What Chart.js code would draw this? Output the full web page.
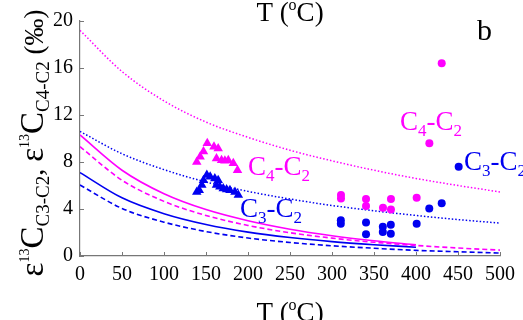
<!DOCTYPE html>
<html>
<head>
<meta charset="utf-8">
<script src="https://cdn.jsdelivr.net/npm/chart.js@4.4.0/dist/chart.umd.min.js"></script>
<style>
  html, body { margin: 0; padding: 0; background: #fff; }
  #wrap { width: 523px; height: 320px; }
</style>
</head>
<body>
<div id="wrap"><canvas id="c" width="523" height="320"></canvas></div>
<script>
// temperature grid of the model curves (°C)
const tGrid = [0, 50, 100, 150, 200, 250, 300, 350, 400, 450, 500];
const tShort = [0, 50, 100, 150, 200, 250, 300, 350, 400];

// model curves (‰)
const magentaDotted = [19.2, 15.7, 13.2, 11.4, 10.1, 9.0, 8.1, 7.3, 6.6, 6.0, 5.45];
const blueDotted = [10.6, 8.7, 7.35, 6.3, 5.5, 4.85, 4.3, 3.85, 3.45, 3.1, 2.8];
const magentaSolid = [10.3, 7.3, 5.3, 3.95, 3.0, 2.28, 1.73, 1.3, 0.95];
const magentaDashed = [9.3, 6.45, 4.65, 3.45, 2.6, 1.98, 1.52, 1.17, 0.9, 0.68, 0.5];
const blueSolid = [7.1, 4.95, 3.6, 2.68, 2.03, 1.57, 1.22, 0.96, 0.75];
const blueDashed = [6.04, 4.05, 2.88, 2.08, 1.53, 1.15, 0.87, 0.66, 0.48, 0.36, 0.25];

// measured values, triangles
const triC4T = [139, 143, 147, 151.5, 159.5, 164.5, 162.5, 168.5, 172.5, 176.5, 182.5, 187.5];
const triC4V = [8.0, 8.45, 8.9, 9.6, 9.3, 9.15, 8.3, 8.15, 8.1, 8.15, 7.9, 7.3];
const triC3T = [139, 142, 145, 147, 151, 155, 160.5, 164.5, 162.5, 166.5, 170.5, 174.5, 178.5, 184.5, 188.5];
const triC3V = [5.45, 5.6, 6.05, 6.45, 6.9, 6.75, 6.6, 6.45, 6.05, 5.9, 5.75, 5.65, 5.6, 5.45, 5.2];

// measured values, circles
const dotC4T = [310.7, 310.7, 340.5, 340.5, 360.7, 370.2, 370.2, 400.8, 415.9, 430.6];
const dotC4V = [5.2, 4.9, 4.85, 4.25, 4.1, 4.85, 3.95, 4.95, 9.6, 16.4];
const dotC3T = [310.5, 310.5, 340.5, 340.5, 360.5, 360.5, 370, 370, 400.8, 415.8, 430.6, 450.8];
const dotC3V = [3.05, 2.75, 2.85, 1.85, 2.5, 2.05, 2.65, 1.9, 2.75, 4.05, 4.5, 7.6];

const xTicks = [0, 50, 100, 150, 200, 250, 300, 350, 400, 450, 500];
const yTicks = [0, 4, 8, 12, 16, 20];

const MAG = '#ff00ff';
const BLU = '#0000f0';
const SERIF = '"Liberation Serif", "DejaVu Serif", serif';

Chart.defaults.font.family = SERIF;

function pts(xs, ys) {
  return xs.map((x, i) => ({ x: x, y: ys[i] }));
}

function marks(label, xs, ys, color, style, r) {
  return {
    label: label, data: pts(xs, ys), showLine: false,
    pointStyle: style, pointRadius: r, pointHoverRadius: r,
    backgroundColor: color, borderColor: color, borderWidth: 0
  };
}

function curve(label, xs, ys, color, dash, w) {
  return {
    label: label, data: pts(xs, ys), showLine: true,
    borderColor: color, borderWidth: w, borderDash: dash,
    pointRadius: 0, cubicInterpolationMode: 'monotone', fill: false
  };
}

// draws text runs of different size / vertical offset one after another
function drawRich(ctx, parts, x, y, color, center) {
  let total = 0;
  parts.forEach(p => {
    ctx.font = p[1] + 'px ' + SERIF;
    total += ctx.measureText(p[0]).width;
  });
  let cx = center ? x - total / 2 : x;
  ctx.fillStyle = color;
  ctx.textBaseline = 'alphabetic';
  ctx.textAlign = 'left';
  parts.forEach(p => {
    ctx.font = p[1] + 'px ' + SERIF;
    ctx.fillText(p[0], cx, y + p[2]);
    cx += ctx.measureText(p[0]).width;
  });
}

const decor = {
  id: 'decor',
  afterDraw(chart) {
    const ctx = chart.ctx;
    const xs = chart.scales.x, ys = chart.scales.y;
    const area = chart.chartArea;
    ctx.save();

    // inward tick marks
    ctx.strokeStyle = '#777';
    ctx.lineWidth = 1;
    ctx.beginPath();
    xTicks.forEach(v => {
      const px = Math.round(xs.getPixelForValue(v)) + 0.5;
      ctx.moveTo(px, area.bottom); ctx.lineTo(px, area.bottom - 4);
    });
    yTicks.forEach(v => {
      const py = Math.round(ys.getPixelForValue(v)) + 0.5;
      ctx.moveTo(area.left, py); ctx.lineTo(area.left + 4, py);
    });
    ctx.stroke();

    // curve / group labels
    drawRich(ctx, [['C', 27, 0], ['4', 17, 6], ['-C', 27, 0], ['2', 17, 6]], 248, 175, MAG);
    drawRich(ctx, [['C', 27, 0], ['3', 17, 6], ['-C', 27, 0], ['2', 17, 6]], 240, 217, BLU);
    drawRich(ctx, [['C', 27, 0], ['4', 17, 6], ['-C', 27, 0], ['2', 17, 6]], 400, 130, MAG);
    drawRich(ctx, [['C', 27, 0], ['3', 17, 6], ['-C', 27, 0], ['2', 17, 6]], 464, 170, BLU);

    // panel letter
    drawRich(ctx, [['b', 30, 0]], 477, 40, '#000');

    // x titles (bottom and the clipped one at the top)
    const tParts = [['T (', 27, 0], ['o', 16, -11], ['C)', 27, 0]];
    drawRich(ctx, tParts, 290, 321, '#000', true);
    drawRich(ctx, tParts, 290, 21, '#000', true);

    // y title, rotated
    ctx.translate(43, 143);
    ctx.rotate(-Math.PI / 2);
    drawRich(ctx, [
      ['\u03b5', 33, 0], ['13', 14, -14], ['C', 33, 0], ['C3-C2', 19, 6],
      [', ', 28, 0],
      ['\u03b5', 33, 0], ['13', 14, -14], ['C', 33, 0], ['C4-C2', 19, 6],
      [' (\u2030)', 27, 0]
    ], 0, 0, '#000', true);

    ctx.restore();
  }
};

new Chart(document.getElementById('c'), {
  type: 'scatter',
  data: {
    datasets: [
      marks('C4-C2 dots', dotC4T, dotC4V, MAG, 'circle', 4),
      marks('C3-C2 dots', dotC3T, dotC3V, BLU, 'circle', 4),
      marks('C4-C2 triangles', triC4T, triC4V, MAG, 'triangle', 5.5),
      marks('C3-C2 triangles', triC3T, triC3V, BLU, 'triangle', 5.5),
      curve('C4 dotted', tGrid, magentaDotted, MAG, [1.5, 2], 1.5),
      curve('C3 dotted', tGrid, blueDotted, BLU, [1.5, 2], 1.5),
      curve('C4 solid', tShort, magentaSolid, MAG, [], 1.6),
      curve('C4 dashed', tGrid, magentaDashed, MAG, [5, 3], 1.6),
      curve('C3 solid', tShort, blueSolid, BLU, [], 1.6),
      curve('C3 dashed', tGrid, blueDashed, BLU, [5, 3], 1.6)
    ]
  },
  options: {
    responsive: false,
    animation: false,
    devicePixelRatio: 1,
    layout: { padding: { top: 21, right: 23, left: 0, bottom: 0 } },
    plugins: { legend: { display: false }, tooltip: { enabled: false } },
    scales: {
      x: {
        type: 'linear', min: 0, max: 500,
        afterFit(scale) { scale.height = 64; },
        afterBuildTicks(scale) { scale.ticks = xTicks.map(v => ({ value: v })); },
        grid: { display: true, drawOnChartArea: false, drawTicks: false },
        border: { display: true, color: '#777', width: 1.2 },
        ticks: { color: '#000', padding: 7, maxRotation: 0, autoSkip: false,
                 font: { family: SERIF, size: 20 } }
      },
      y: {
        type: 'linear', min: 0, max: 20,
        afterFit(scale) { scale.width = 80; },
        afterBuildTicks(scale) { scale.ticks = yTicks.map(v => ({ value: v })); },
        grid: { display: true, drawOnChartArea: false, drawTicks: false },
        border: { display: true, color: '#777', width: 1.2 },
        ticks: { color: '#000', padding: 7, font: { family: SERIF, size: 20 } }
      }
    }
  },
  plugins: [decor]
});
</script>
</body>
</html>
